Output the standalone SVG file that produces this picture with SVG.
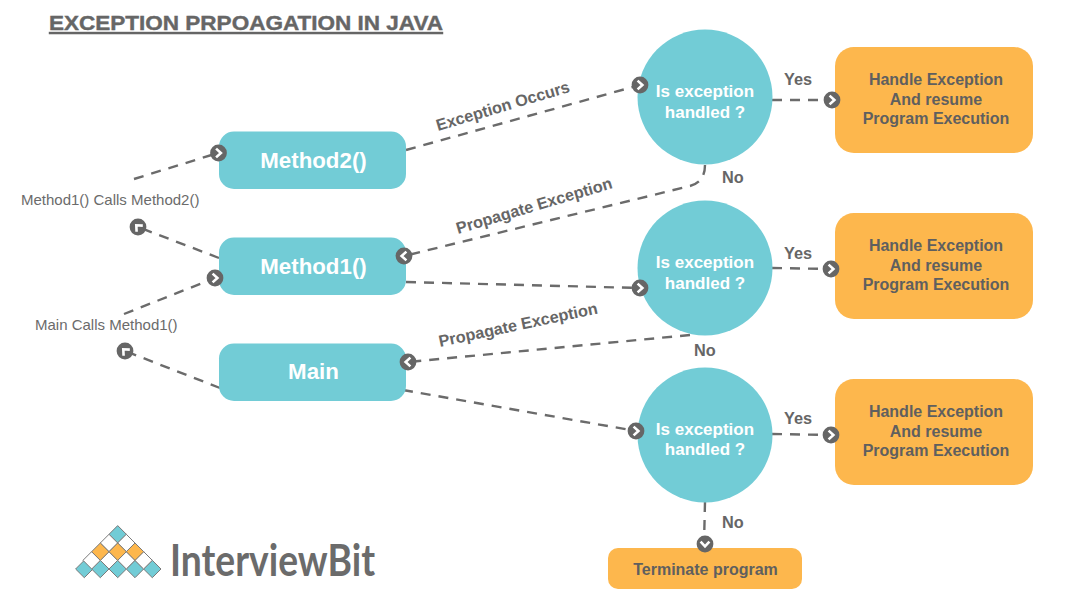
<svg xmlns="http://www.w3.org/2000/svg" width="1077" height="601" viewBox="0 0 1077 601">
<style>
text{font-family:"Liberation Sans",Arial,sans-serif;fill:#666}
.b{font-weight:700}
.teal{fill:#72ccd6}
.or{fill:#fdb74d}
.wt{fill:#fff;font-weight:700;text-anchor:middle}
.q{font-size:17px}
.lab{font-size:16.300px;font-weight:700}
.sm{font-size:15px;fill:#6b6b6b}
.c{fill:none;stroke:#6b6b6b;stroke-width:2.400;stroke-dasharray:10 8}
.h{font-size:16px;font-weight:700;text-anchor:middle;fill:#5f5f5f}
.d{stroke:#7a7a7a;stroke-width:1}
</style>
<defs>
<g id="arr"><circle r="8.400" fill="#666"/><path d="M-2.400,-4.400 L2.400,0 L-2.400,4.400" fill="none" stroke="#fff" stroke-width="2.600"/></g>
<path id="dm" d="M0,-8.700 L8.700,0 L0,8.700 L-8.700,0Z"/>
</defs>
<rect width="1077" height="601" fill="#fff"/>
<text id="title" x="49" y="30" class="b" font-size="20.400" textLength="394" lengthAdjust="spacingAndGlyphs" stroke="#666" stroke-width="0.400" text-decoration="underline">EXCEPTION PRPOAGATION IN JAVA</text>

<g id="connectors">
<path class="c" d="M134,179 L218,153"/>
<path class="c" d="M219,258 L138,227"/>
<path class="c" d="M124,314 L215,278"/>
<path class="c" d="M220,388 L125,351"/>
<path class="c" d="M406,150 L640,85"/>
<path class="c" d="M772,100 L832,100"/>
<path class="c" d="M705,165 C705,175 701,183 690,186 L404,256"/>
<path class="c" d="M406,282 L640,288"/>
<path class="c" d="M772,268 L831,269"/>
<path class="c" d="M690,335 L408,362"/>
<path class="c" d="M403,390 L636,431"/>
<path class="c" d="M772,434 L831,435"/>
<path class="c" d="M705,502 L704,544"/>
</g>

<g id="method2"><rect class="teal" x="219" y="131.500" width="187" height="57.500" rx="15"/><text class="wt" x="313.500" y="168" font-size="22.300">Method2()</text></g>
<g id="method1"><rect class="teal" x="219" y="237.500" width="187" height="57.500" rx="15"/><text class="wt" x="313.500" y="274" font-size="22.300">Method1()</text></g>
<g id="main"><rect class="teal" x="219" y="343.500" width="187" height="57.500" rx="15"/><text class="wt" x="313.500" y="379" font-size="22.300">Main</text></g>

<g id="check1"><circle class="teal" cx="705" cy="97" r="67.500"/><text class="wt q" x="705" y="97">Is exception</text><text class="wt q" x="705" y="118">handled ?</text></g>
<g id="check2"><circle class="teal" cx="705" cy="268" r="67.500"/><text class="wt q" x="705" y="268">Is exception</text><text class="wt q" x="705" y="289">handled ?</text></g>
<g id="check3"><circle class="teal" cx="705" cy="435" r="67.500"/><text class="wt q" x="705" y="435">Is exception</text><text class="wt q" x="705" y="455">handled ?</text></g>

<g id="handle1"><rect class="or" x="835" y="47" width="198" height="106" rx="19"/><text class="h" x="936" y="85">Handle Exception</text><text class="h" x="936" y="105">And resume</text><text class="h" x="936" y="124">Program Execution</text></g>
<g id="handle2"><rect class="or" x="835" y="213" width="198" height="106" rx="19"/><text class="h" x="936" y="251">Handle Exception</text><text class="h" x="936" y="271">And resume</text><text class="h" x="936" y="290">Program Execution</text></g>
<g id="handle3"><rect class="or" x="835" y="379" width="198" height="106" rx="19"/><text class="h" x="936" y="417">Handle Exception</text><text class="h" x="936" y="437">And resume</text><text class="h" x="936" y="456">Program Execution</text></g>
<g id="terminate"><rect class="or" x="608" y="548" width="194" height="41" rx="10"/><text class="h" x="705.500" y="575">Terminate program</text></g>

<g id="arrowheads">
<use href="#arr" transform="translate(218.500,153)"/>
<use href="#arr" transform="translate(138,227) rotate(-135)"/>
<use href="#arr" transform="translate(215,278)"/>
<use href="#arr" transform="translate(125,351) rotate(-135)"/>
<use href="#arr" transform="translate(640,85)"/>
<use href="#arr" transform="translate(832,100)"/>
<use href="#arr" transform="translate(404,256) rotate(180)"/>
<use href="#arr" transform="translate(640,288)"/>
<use href="#arr" transform="translate(831,269)"/>
<use href="#arr" transform="translate(408,362) rotate(180)"/>
<use href="#arr" transform="translate(636,431)"/>
<use href="#arr" transform="translate(831,435)"/>
<use href="#arr" transform="translate(705,544) rotate(90)"/>
</g>

<g id="labels">
<text class="sm" x="21" y="205">Method1() Calls Method2()</text>
<text class="sm" x="35" y="330">Main Calls Method1()</text>
<text class="lab" transform="translate(438,131) rotate(-16.500)">Exception Occurs</text>
<text class="lab" transform="translate(458,234) rotate(-16.500)">Propagate Exception</text>
<text class="lab" transform="translate(440,347) rotate(-12)">Propagate Exception</text>
<text class="lab" x="784" y="85">Yes</text>
<text class="lab" x="784" y="259">Yes</text>
<text class="lab" x="784" y="424">Yes</text>
<text class="lab" x="722" y="183">No</text>
<text class="lab" x="694" y="356">No</text>
<text class="lab" x="722" y="528">No</text>
</g>

<g id="logo">
<g class="d teal">
<use href="#dm" x="117.700" y="534.300"/>
<use href="#dm" x="84.300" y="569"/><use href="#dm" x="100.300" y="569"/><use href="#dm" x="117.700" y="569"/><use href="#dm" x="135" y="569"/><use href="#dm" x="152.300" y="569"/>
</g>
<g class="d" fill="#fff">
<use href="#dm" x="109" y="543"/><use href="#dm" x="126.300" y="543"/>
<use href="#dm" x="91.700" y="560.300"/><use href="#dm" x="109" y="560.300"/><use href="#dm" x="126.300" y="560.300"/><use href="#dm" x="143.600" y="560.300"/>
</g>
<g class="d or">
<use href="#dm" x="100.300" y="551.700"/><use href="#dm" x="117.700" y="551.700"/><use href="#dm" x="135" y="551.700"/>
</g>
<text x="170" y="576" font-size="43" textLength="205" lengthAdjust="spacingAndGlyphs" style="font-family:Lato,'Open Sans',sans-serif;font-weight:700;fill:#6b6b6b">InterviewBit</text>
</g>
</svg>
